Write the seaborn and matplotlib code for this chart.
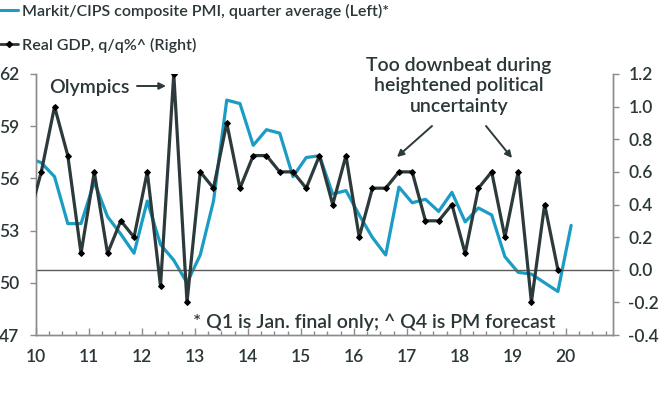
import matplotlib
matplotlib.use("Agg")
import matplotlib.pyplot as plt
import seaborn as sns
import pandas as pd
from matplotlib.ticker import MultipleLocator

# ---------------- data ----------------
quarters = [str(p) for p in pd.period_range("2009Q4", "2020Q1", freq="Q")]

pmi = [57.2,
       56.9, 56.1, 53.4, 53.4,
       55.8, 53.8, 52.8, 51.7,
       54.7, 52.2, 51.3, 50.0,
       51.6, 54.7, 60.5, 60.3,
       57.9, 58.8, 58.6, 56.1,
       57.2, 57.3, 55.1, 55.3,
       53.9, 52.6, 51.6, 55.5,
       54.6, 54.8, 54.1, 55.2,
       53.5, 54.3, 53.9, 51.5,
       50.6, 50.5, 50.0, 49.5,
       53.3]

gdp = [0.3,
       0.6, 1.0, 0.7, 0.1,
       0.6, 0.1, 0.3, 0.2,
       0.6, -0.1, 1.2, -0.2,
       0.6, 0.5, 0.9, 0.5,
       0.7, 0.7, 0.6, 0.6,
       0.5, 0.7, 0.4, 0.7,
       0.2, 0.5, 0.5, 0.6,
       0.6, 0.3, 0.3, 0.4,
       0.1, 0.5, 0.6, 0.2,
       0.6, -0.2, 0.4, 0.0,
       None]

year_ticks = list(range(2010, 2021))
year_labels = [str(y)[2:] for y in year_ticks]
left_ticks = [47, 50, 53, 56, 59, 62]
right_ticks = [-0.4, -0.2, 0.0, 0.2, 0.4, 0.6, 0.8, 1.0, 1.2]

pmi_label = "Markit/CIPS composite PMI, quarter average (Left)*"
gdp_label = "Real GDP, q/q%^ (Right)"

# ---------------- styling ----------------
sns.set_style("white")
plt.rcParams["font.family"] = ["Lato", "DejaVu Sans"]
plt.rcParams["axes.unicode_minus"] = False

TEAL = "#1b9cc4"
DARK = "#2c3a3b"
TXT = "#2a3637"
SPINE = "#8c8c8c"

W, H = 663, 394
def fx(px):
    return px / W
def fy(py):
    return 1 - py / H

df = pd.DataFrame({"quarter": quarters, "pmi": pmi, "gdp": gdp})
per = pd.PeriodIndex(df["quarter"], freq="Q")
df["x"] = per.year + (per.quarter - 1) / 4 + 0.1

fig = plt.figure(figsize=(W / 100, H / 100), dpi=100)
ax = fig.add_axes([fx(36), fy(335), (613 - 36) / W, (335 - 74) / H])

sns.lineplot(data=df, x="x", y="pmi", ax=ax, color=TEAL, lw=2.3,
             legend=False, zorder=3)
ax2 = ax.twinx()
ax2.axhline(0, color="#5a5a5a", lw=1.0, zorder=1)
sns.lineplot(data=df.dropna(subset=["gdp"]), x="x", y="gdp", ax=ax2,
             color=DARK, lw=2.3, marker="D", markersize=3.0,
             markerfacecolor="black", markeredgecolor="black",
             legend=False, zorder=4)

ax.set_xlim(2010, 2020.89)
ax.set_ylim(47, 62)
ax2.set_ylim(-0.4, 1.2)

ax.set_xlabel("")
ax.set_ylabel("")
ax2.set_ylabel("")

TICKFONT = dict(fontsize=12.5, fontweight="semibold", color=TXT)
ax.set_yticks(left_ticks)
ax.set_yticklabels([str(v) for v in left_ticks], **TICKFONT)
ax2.set_yticks(right_ticks)
ax2.set_yticklabels([f"{v:.1f}" for v in right_ticks], **TICKFONT)
ax.set_xticks(year_ticks)
ax.set_xticklabels(year_labels, **TICKFONT)
ax.xaxis.set_minor_locator(MultipleLocator(0.25))

for a in (ax, ax2):
    for s in a.spines.values():
        s.set_color(SPINE)
        s.set_linewidth(1.0)
    a.spines["top"].set_visible(False)

ax.tick_params(axis="y", direction="out", length=4, width=1, color=SPINE,
               pad=8, left=True)
ax2.tick_params(axis="y", direction="out", length=4, width=1, color=SPINE,
                pad=7, right=True)
ax.tick_params(axis="x", which="major", direction="in", length=5, width=1,
               color=SPINE, pad=10, bottom=True)
ax.tick_params(axis="x", which="minor", direction="in", length=3, width=1,
               color=SPINE, bottom=True)

# ---------------- legend ----------------
h1 = plt.Line2D([], [], color=TEAL, lw=2.2)
h2 = plt.Line2D([], [], color=DARK, lw=2.0, marker="D", markersize=3.0,
                markerfacecolor="black", markeredgecolor="black")
fig.legend([h1, h2], [pmi_label, gdp_label], loc="upper left",
           bbox_to_anchor=(fx(0), fy(4)), frameon=False,
           prop=dict(family=["Lato", "DejaVu Sans"], size=11.5, weight="semibold"),
           handlelength=1.1, handletextpad=0.3, labelspacing=1.15,
           borderpad=0, borderaxespad=0, labelcolor=TXT)

# ---------------- annotations ----------------
ANN = dict(fontsize=14, fontweight="semibold", color=TXT)
fig.text(fx(89), fy(87), "Olympics", ha="center", va="center", **ANN)
ax.annotate("", xy=(fx(166), fy(86)), xytext=(fx(137), fy(86)),
            xycoords="figure fraction", textcoords="figure fraction",
            arrowprops=dict(arrowstyle="-|>", color=DARK, lw=1.4,
                            mutation_scale=10, shrinkA=0, shrinkB=0))

fig.text(fx(459), fy(86), "Too downbeat during\nheightened political\nuncertainty",
         ha="center", va="center", linespacing=1.25, **ANN)
ax.annotate("", xy=(fx(397), fy(157)), xytext=(fx(432), fy(126)),
            xycoords="figure fraction", textcoords="figure fraction",
            arrowprops=dict(arrowstyle="-|>", color=DARK, lw=1.4,
                            mutation_scale=10, shrinkA=0, shrinkB=0))
ax.annotate("", xy=(fx(512), fy(158)), xytext=(fx(486), fy(126)),
            xycoords="figure fraction", textcoords="figure fraction",
            arrowprops=dict(arrowstyle="-|>", color=DARK, lw=1.4,
                            mutation_scale=10, shrinkA=0, shrinkB=0))

fig.text(fx(374), fy(322), "* Q1 is Jan. final only; ^ Q4 is PM forecast",
         ha="center", va="center", **ANN)

fig.savefig("out.png", dpi=100)
